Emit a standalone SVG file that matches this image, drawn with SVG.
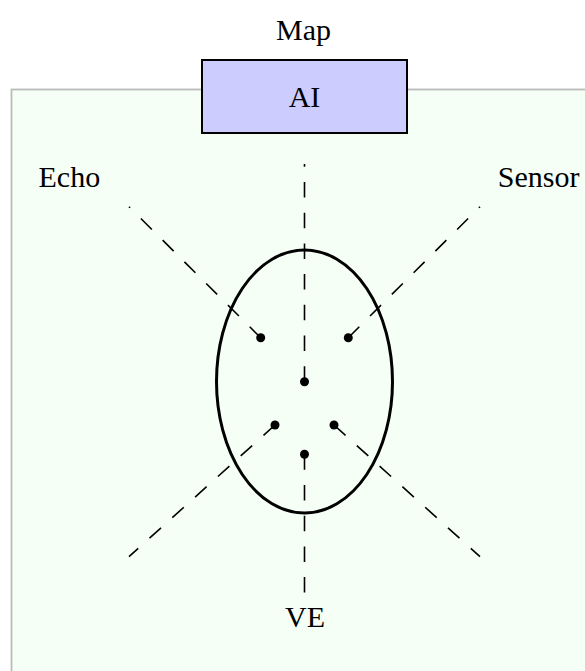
<svg xmlns="http://www.w3.org/2000/svg" width="585" height="671" viewBox="0 0 585 671">
<style>
text{font-family:"Liberation Serif","Times New Roman",serif;font-size:30px;fill:#000}
.dash{fill:none;stroke:#000;stroke-width:1.6;stroke-dasharray:15.5 15.2}
.dot{fill:#000}
</style>
<rect x="0" y="0" width="585" height="671" fill="#fff"/>
<g id="frame">
<rect x="11.5" y="89.5" width="620" height="620" fill="#f6fff6" stroke="#bbbbbb" stroke-width="1.8"/>
</g>
<g id="map-label"><text x="303.5" y="40" text-anchor="middle">Map</text></g>
<g id="ai">
<rect x="202" y="60" width="205" height="73" fill="#ccccff" stroke="#000" stroke-width="2"/>
<text x="304.5" y="107.3" text-anchor="middle">AI</text>
</g>
<g id="echo"><text x="38.5" y="186.7">Echo</text></g>
<g id="sensor"><text x="579.5" y="186.7" text-anchor="end">Sensor</text></g>
<g id="ve"><text x="305" y="626.7" text-anchor="middle">VE</text></g>
<g id="connectors">
<path class="dash" d="M304.5,381.7 L304.5,164"/>
<path class="dash" d="M304.5,454.3 L304.5,593"/>
<path class="dash" d="M260.7,337.7 L129,206.7"/>
<path class="dash" d="M348.3,337.7 L480,206.7"/>
<path class="dash" d="M275,425 L129,556.7"/>
<path class="dash" d="M334,425 L480,556.7"/>
</g>
<g id="body">
<ellipse cx="304.5" cy="381.5" rx="88" ry="131.5" fill="none" stroke="#000" stroke-width="3"/>
</g>
<g id="points">
<circle class="dot" cx="260.7" cy="337.7" r="4.5"/>
<circle class="dot" cx="348.3" cy="337.7" r="4.5"/>
<circle class="dot" cx="304.5" cy="381.7" r="4.5"/>
<circle class="dot" cx="275" cy="425" r="4.5"/>
<circle class="dot" cx="334" cy="425" r="4.5"/>
<circle class="dot" cx="304.5" cy="454.3" r="4.5"/>
</g>
</svg>
